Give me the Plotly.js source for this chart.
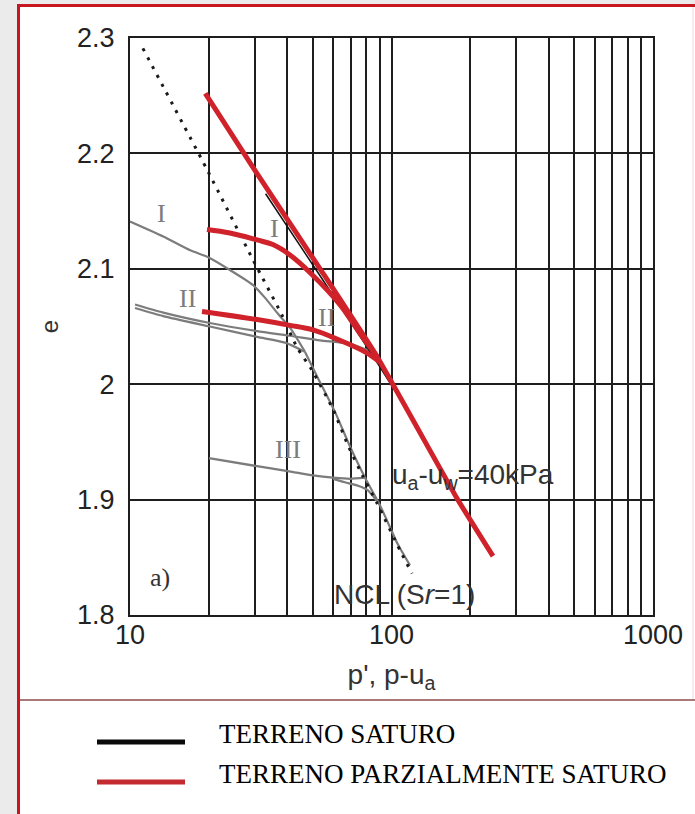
<!DOCTYPE html>
<html>
<head>
<meta charset="utf-8">
<script src="https://cdn.plot.ly/plotly-3.0.1.min.js"></script>
<style>
  html, body { margin: 0; padding: 0; background: #ebebeb; }
  #chart { width: 695px; height: 814px; }
</style>
</head>
<body>
<div id="chart"></div>
<script>
// Normal consolidation line for the saturated soil (Sr = 1)
const ncl_p = [11.2, 19.7, 29.5, 38.1, 43.5, 49.7, 59.8, 68.2, 77.8, 88.0, 107.8, 119.8];
const ncl_e = [2.291, 2.186, 2.108, 2.060, 2.032, 2.012, 1.978, 1.947, 1.920, 1.897, 1.856, 1.836];

// Saturated specimens I, II, III
const satI_p = [10, 13.4, 17.0, 19.9, 24.1, 29.5, 32.8, 36.8, 40.9, 46.7];
const satI_e = [2.141, 2.128, 2.116, 2.110, 2.099, 2.086, 2.075, 2.061, 2.049, 2.028];
const satIIa_p = [10.45, 13.4, 20.2, 30.6, 40.9, 53.3, 69.4, 86.5];
const satIIa_e = [2.069, 2.062, 2.053, 2.046, 2.042, 2.038, 2.035, 2.027];
const satIIb_p = [10.45, 13.4, 20.2, 30.6, 39.2, 46.7];
const satIIb_e = [2.066, 2.059, 2.050, 2.041, 2.036, 2.028];
const satTail_p = [46.7, 52.4, 60.8, 69.4, 79.2, 90.4, 105.9, 117.7];
const satTail_e = [2.028, 2.005, 1.976, 1.946, 1.919, 1.895, 1.861, 1.843];
const satIIIa_p = [20.05, 30.6, 41.7, 50.1, 59.8, 69.4, 79.2];
const satIIIa_e = [1.936, 1.929, 1.924, 1.921, 1.919, 1.918, 1.919];
const satIIIb_p = [59.8, 66.4, 74.5, 81.3, 90.4];
const satIIIb_e = [1.918, 1.915, 1.912, 1.908, 1.895];

// Constant suction line, ua - uw = 40 kPa
const s40_p = [19.4, 30.3, 53.3, 88.0, 178.1, 244.4];
const s40_e = [2.252, 2.184, 2.100, 2.024, 1.901, 1.851];
const s40k_p = [33.0, 53.3, 88.0, 100.0];
const s40k_e = [2.165, 2.094, 2.019, 1.999];

// Partially saturated specimens I and II
const unsI_p = [19.7, 24.1, 30.6, 35.2, 40.9, 49.2, 63.5, 75.8, 88.0];
const unsI_e = [2.134, 2.131, 2.125, 2.121, 2.112, 2.096, 2.069, 2.044, 2.024];
const unsII_p = [18.85, 30.6, 40.9, 50.1, 63.5, 79.2, 90.4];
const unsII_e = [2.063, 2.056, 2.051, 2.047, 2.038, 2.028, 2.019];

// Axis ticks: labelled decades, unlabelled intermediate grid
const xTickVals = [10, 100, 1000];
const xTickText = ['10', '100', '1000'];
const xGridVals = [20, 30, 40, 50, 60, 70, 80, 90, 200, 300, 400, 500, 600, 700, 800, 900];
const yTickVals = [1.8, 1.9, 2.0, 2.1, 2.2, 2.3];
const yTickText = ['1.8', '1.9', '2', '2.1', '2.2', '2.3'];

// Legend entries
const legendNames = ['TERRENO SATURO', 'TERRENO PARZIALMENTE SATURO'];
const legendColors = ['#0a0a0a', '#c42b30'];

// Plot-area geometry (pixels) used to place decorations in paper units
const W = 695, H = 814;
const M = { l: 130, r: 42, t: 38, b: 199 };
const PW = W - M.l - M.r, PH = H - M.t - M.b;
const px = v => (v - M.l) / PW;
const py = v => (H - M.b - v) / PH;

const GRAY = '#7c7c7c', RED = '#d0222a';
const line = (x, y, color, width, dash, smoothing) => ({
  x, y, type: 'scatter', mode: 'lines', hoverinfo: 'skip', showlegend: false,
  line: { color, width, dash: dash || 'solid', shape: 'spline',
          smoothing: smoothing === undefined ? 0.6 : smoothing }
});

const traces = [
  line(satI_p, satI_e, GRAY, 2.2),
  line(satIIa_p, satIIa_e, GRAY, 2.2),
  line(satIIb_p, satIIb_e, GRAY, 2.2),
  line(satTail_p, satTail_e, GRAY, 2.2),
  line(satIIIa_p, satIIIa_e, GRAY, 2.4),
  line(satIIIb_p, satIIIb_e, GRAY, 2.2),
  line(s40k_p, s40k_e, '#111', 1.5),
  line(ncl_p, ncl_e, '#1a1a1a', 3, '3px,7px'),
  line(unsI_p, unsI_e, RED, 5, null, 1),
  line(unsII_p, unsII_e, RED, 5, null, 1),
  line(s40_p, s40_e, RED, 5, null, 0.4)
];

const sans = 'Liberation Sans, Arial, Helvetica, sans-serif';
const serif = 'Liberation Serif, Times New Roman, serif';

const label = (text, x, y, opts) => Object.assign({
  text, xref: 'paper', yref: 'paper', x: px(x), y: py(y),
  xanchor: 'center', yanchor: 'middle', showarrow: false,
  font: { family: serif, size: 26, color: GRAY }
}, opts || {});

const annotations = [
  label('I', 161, 213),
  label('I', 274, 228),
  label('II', 187, 298),
  label('II', 326, 317),
  label('III', 288, 449),
  label('a)', 160, 577, { font: { family: serif, size: 26, color: '#333' } }),
  label('u<sub>a</sub>-u<sub>w</sub>=40kPa', 390, 476,
        { xanchor: 'left', font: { family: sans, size: 28, color: '#333' } }),
  label('NCL (S<i>r</i>=1)', 332, 594,
        { xanchor: 'left', font: { family: sans, size: 28, color: '#333' } }),
  label(legendNames[0], 217, 734,
        { xanchor: 'left', font: { family: serif, size: 27, color: '#000' } }),
  label(legendNames[1], 217, 774,
        { xanchor: 'left', font: { family: serif, size: 27, color: '#000' } })
];

const shapes = [
  // white card behind the figure
  { type: 'rect', xref: 'paper', yref: 'paper', layer: 'below',
    x0: px(19), x1: px(720), y0: py(840), y1: py(6),
    fillcolor: '#ffffff', line: { width: 0 } },
  // red frame
  { type: 'line', xref: 'paper', yref: 'paper', x0: px(18.5), x1: px(18.5), y0: py(4), y1: py(840),
    line: { color: '#c8161e', width: 3 } },
  { type: 'line', xref: 'paper', yref: 'paper', x0: px(17), x1: px(720), y0: py(5.5), y1: py(5.5),
    line: { color: '#c8161e', width: 3 } },
  { type: 'line', xref: 'paper', yref: 'paper', x0: px(693), x1: px(693), y0: py(7), y1: py(699),
    line: { color: '#f3d6d6', width: 1 } },
  // separator above the legend
  { type: 'line', xref: 'paper', yref: 'paper', x0: px(20), x1: px(720), y0: py(700), y1: py(700),
    line: { color: '#8c4c4c', width: 1.5 } },
  // legend keys
  { type: 'line', xref: 'paper', yref: 'paper', x0: px(97), x1: px(185), y0: py(742), y1: py(742),
    line: { color: legendColors[0], width: 5 } },
  { type: 'line', xref: 'paper', yref: 'paper', x0: px(97), x1: px(185), y0: py(782), y1: py(782),
    line: { color: legendColors[1], width: 5 } }
];

const axisCommon = {
  showgrid: true, gridcolor: '#1e1e1e', gridwidth: 2,
  showline: true, mirror: true, linecolor: '#1e1e1e', linewidth: 2,
  ticks: '', zeroline: false, fixedrange: true,
  tickfont: { family: sans, size: 27, color: '#222' }
};

const layout = {
  width: W, height: H,
  margin: M,
  paper_bgcolor: '#ebebeb',
  plot_bgcolor: '#ffffff',
  showlegend: false,
  xaxis: Object.assign({}, axisCommon, {
    type: 'log', range: [1, 3],
    tickmode: 'array', tickvals: xTickVals, ticktext: xTickText,
    minor: { tickmode: 'array', tickvals: xGridVals, showgrid: true,
             gridcolor: '#1e1e1e', gridwidth: 2, ticks: '' },
    ticklabelstandoff: -5,
    title: { text: "p', p-u<sub>a</sub>", font: { family: sans, size: 28, color: '#333' }, standoff: 15 }
  }),
  yaxis: Object.assign({}, axisCommon, {
    range: [1.8, 2.3],
    tickmode: 'array', tickvals: yTickVals, ticktext: yTickText,
    ticklabelstandoff: 8,
    title: { text: 'e', font: { family: sans, size: 24, color: '#333' }, standoff: 12 }
  }),
  annotations, shapes
};

Plotly.newPlot('chart', traces, layout, { displayModeBar: false, staticPlot: true });
</script>
</body>
</html>
